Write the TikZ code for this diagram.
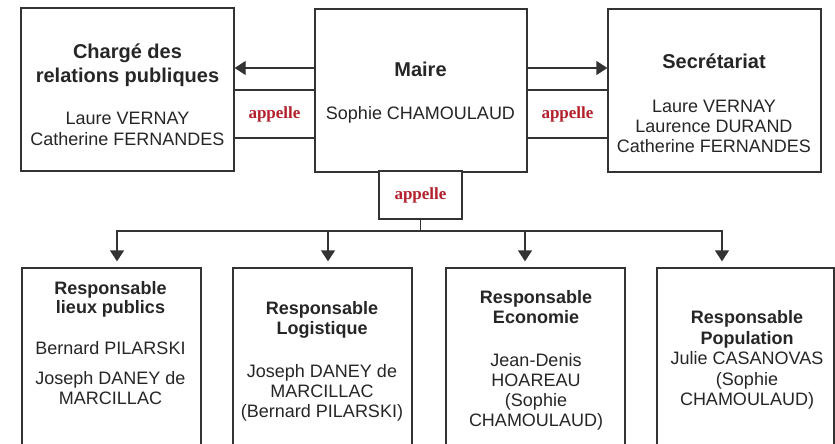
\documentclass[tikz,border=0pt]{standalone}
\usepackage{fontspec}
\setmainfont{Liberation Sans}
\newfontfamily\apfont{Liberation Serif}
\usetikzlibrary{arrows.meta}
\definecolor{ln}{HTML}{333333}
\definecolor{tx}{HTML}{262626}
\definecolor{apred}{HTML}{B3202C}
\begin{document}
\begin{tikzpicture}[x=1pt,y=-1pt,
  box/.style={draw=ln, line width=1.3pt, inner sep=0pt, fill=white},
  ttl/.style={font=\fontsize{20}{23}\selectfont\bfseries, text=tx, anchor=base, inner sep=0pt},
  ttls/.style={font=\fontsize{18}{20}\selectfont\bfseries, text=tx, anchor=base, inner sep=0pt},
  nm/.style={font=\fontsize{18}{20}\selectfont, text=tx, anchor=base, inner sep=0pt},
  apbox/.style={box, font=\apfont\fontsize{17}{19}\selectfont\bfseries, text=apred},
  conn/.style={draw=ln, line width=1.3pt},
  arr/.style={conn, -{Triangle[length=11pt,width=14pt]}}
]
\useasboundingbox (0,0) rectangle (835,444);
\clip (0,0) rectangle (835,444);

% top boxes
\node[box, minimum width=213pt, minimum height=163pt] (chg) at (127.5,89.5) {};
\node[box, minimum width=212pt, minimum height=163pt] (maire) at (421,90.5) {};
\node[box, minimum width=213pt, minimum height=163pt] (sec) at (714.5,90.5) {};

% appelle boxes
\node[apbox, minimum width=81pt, minimum height=48pt] (apL) at (274.5,114) {appelle};
\node[apbox, minimum width=81pt, minimum height=48pt] (apR) at (567.5,114) {appelle};
\node[apbox, minimum width=83pt, minimum height=48pt] (apM) at (420.5,195) {appelle};

% horizontal arrows
\coordinate (ya) at (0,68);
\draw[arr] (maire.west |- ya) -- (chg.east |- ya);
\draw[arr] (maire.east |- ya) -- (sec.west |- ya);

% bottom boxes
\node[box, minimum width=179pt, minimum height=192pt] (b1) at (111.5,364) {};
\node[box, minimum width=179pt, minimum height=192pt] (b2) at (322.5,364) {};
\node[box, minimum width=179pt, minimum height=192pt] (b3) at (535.5,364) {};
\node[box, minimum width=177pt, minimum height=192pt] (b4) at (745.5,364) {};

% distribution
\coordinate (h1) at (117,231);
\coordinate (h2) at (328,231);
\coordinate (h3) at (525,231);
\coordinate (h4) at (722,231);
\draw[conn] (apM.south) -- (apM.south |- h1);
\draw[conn, line cap=rect] (h1) -- (h4);
\draw[arr, shorten >=6pt] (h1) -- (h1 |- b1.north);
\draw[arr, shorten >=6pt] (h2) -- (h2 |- b2.north);
\draw[arr, shorten >=6pt] (h3) -- (h3 |- b3.north);
\draw[arr, shorten >=6pt] (h4) -- (h4 |- b4.north);

% texts top
\node[ttl] (chgT1) at (127.5,59) {Chargé des};
\node[ttl] (chgT2) at (127.5,82) {relations publiques};
\node[nm] (chgN1) at (127.5,124) {Laure VERNAY};
\node[nm] (chgN2) at (127.5,145) {Catherine FERNANDES};

\node[ttl] (maT) at (420.5,77) {Maire};
\node[nm] (maN) at (420.5,119) {Sophie CHAMOULAUD};

\node[ttl] (secT) at (714,69) {Secrétariat};
\node[nm] (secN1) at (714,112) {Laure VERNAY};
\node[nm] (secN2) at (714,132) {Laurence DURAND};
\node[nm] (secN3) at (714,152) {Catherine FERNANDES};

% texts bottom
\node[ttls] (b1T1) at (110.5,294) {Responsable};
\node[ttls] (b1T2) at (110.5,313) {lieux publics};
\node[nm] (b1N1) at (110.5,354) {Bernard PILARSKI};
\node[nm] (b1N2) at (110.5,384) {Joseph DANEY de};
\node[nm] (b1N3) at (110.5,404) {MARCILLAC};

\node[ttls] (b2T1) at (322,314) {Responsable};
\node[ttls] (b2T2) at (322,334) {Logistique};
\node[nm] (b2N1) at (322,377) {Joseph DANEY de};
\node[nm] (b2N2) at (322,397) {MARCILLAC};
\node[nm] (b2N3) at (322,417) {(Bernard PILARSKI)};

\node[ttls] (b3T1) at (536,303) {Responsable};
\node[ttls] (b3T2) at (536,323) {Economie};
\node[nm] (b3N1) at (536,366) {Jean-Denis};
\node[nm] (b3N2) at (536,386) {HOAREAU};
\node[nm] (b3N3) at (536,406) {(Sophie};
\node[nm] (b3N4) at (536,426) {CHAMOULAUD)};

\node[ttls] (b4T1) at (747,323) {Responsable};
\node[ttls] (b4T2) at (747,344) {Population};
\node[nm] (b4N1) at (747,364) {Julie CASANOVAS};
\node[nm] (b4N2) at (747,385) {(Sophie};
\node[nm] (b4N3) at (747,405) {CHAMOULAUD)};
\end{tikzpicture}
\end{document}
